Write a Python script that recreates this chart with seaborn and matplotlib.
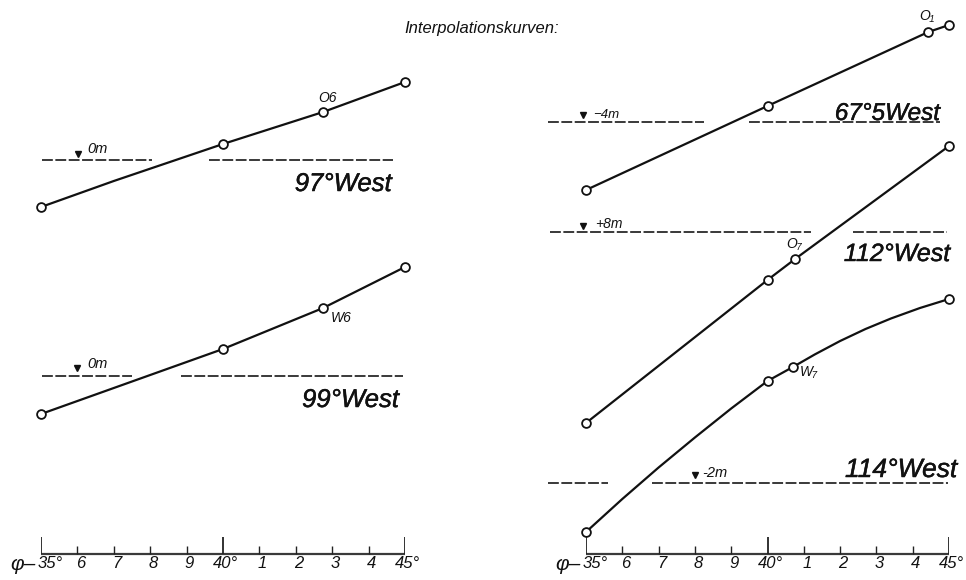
import matplotlib
matplotlib.use("Agg")
import matplotlib.pyplot as plt
import matplotlib.patheffects as pe
import pandas as pd
import seaborn as sns

# ---- latitude scale ---------------------------------------------------------
lat_ticks = [35, 36, 37, 38, 39, 40, 41, 42, 43, 44, 45]
lat_tick_labels = ["35°", "6", "7", "8", "9", "40°", "1", "2", "3", "4", "45°"]
major_ticks = [35, 40, 45]

# ---- interpolation curves: stations (latitude, height) ---------------------
w97_lat = [35, 40, 42.75, 45]
w97_h = [373, 436, 468, 498]
w97_bend_lat = [37.0]
w97_bend_h = [399]

w99_lat = [35, 40, 42.75, 45]
w99_h = [166, 231, 272, 313]

w67_lat = [35, 40, 44.43, 45]
w67_h = [390, 474, 548, 555]

w112_lat = [35, 40, 40.76, 45]
w112_h = [157, 300, 321, 434]

w114_lat = [35, 40, 40.7, 45]
w114_h = [48, 199, 213, 281]
w114_bend_lat = [36, 37, 38, 39, 41.3, 42.0, 42.7, 43.4, 44.2]
w114_bend_h = [81, 112.5, 142.5, 171.5, 225.5, 239, 251, 261.5, 272]

# ---- reference levels -------------------------------------------------------
level_names = ["97°West", "99°West", "67°5West", "112°West", "114°West"]
level_h = [420, 204, 458.5, 348, 97]
level_segments = [
    [(35.02, 38.04), (39.62, 44.67)],
    [(35.02, 37.49), (38.84, 44.95)],
    [(33.95, 38.24), (39.49, 44.75)],
    [(34.01, 41.20), (42.36, 44.94)],
    [(33.95, 35.61), (36.82, 44.97)],
]
level_text = ["0m", "0m", "−4m", "+8m", "-2m"]
level_mark_lat = [36.02, 36.0, 34.92, 34.92, 38.0]
level_mark_h = [426, 212.5, 465.5, 354.5, 105.5]
level_text_lat = [36.26, 36.26, 35.19, 35.25, 38.2]
level_text_h = [431, 216, 465, 356, 107]
level_text_size = [10.5, 10.5, 9.5, 10, 10.5]

# meridian titles: right edge latitude, baseline height, size
title_lat = [44.64, 44.84, 44.75, 45.03, 45.22]
title_h = [389, 173, 460, 319, 103]
title_size = [18.5, 18.5, 17.5, 18, 19]

# station labels
stn_text = ["O6", "W6", "O₁", "O₇", "W₇"]
stn_lat = [42.86, 43.24, 44.39, 40.73, 41.14]
stn_h = [482, 262, 564, 336, 208]

sns.set_theme(style="white")
plt.rcParams["font.family"] = ["Liberation Sans", "DejaVu Sans"]

INK = "#111111"
BOLDEN = [pe.withStroke(linewidth=0.35, foreground=INK)]

fig = plt.figure(figsize=(9.66, 5.8), dpi=100)
fig.patch.set_facecolor("white")
ax_l = fig.add_axes([41 / 966, 0, 364 / 966, 1])
ax_r = fig.add_axes([586 / 966, 0, 363 / 966, 1])
for ax in (ax_l, ax_r):
    ax.set_xlim(35, 45)
    ax.set_ylim(0, 580)
    ax.set_axis_off()


def draw_curve(ax, lat, h, bend_lat=(), bend_h=()):
    path = pd.DataFrame({"lat": list(lat) + list(bend_lat),
                         "h": list(h) + list(bend_h)}).sort_values("lat")
    sns.lineplot(data=path, x="lat", y="h", ax=ax, color=INK, lw=1.6,
                 sort=True, estimator=None, legend=False, zorder=2)
    pts = pd.DataFrame({"lat": lat, "h": h})
    sns.scatterplot(data=pts, x="lat", y="h", ax=ax, s=40, marker="o",
                    facecolor="white", edgecolor=INK, linewidth=1.3,
                    legend=False, zorder=3, clip_on=False)


draw_curve(ax_l, w97_lat, w97_h, w97_bend_lat, w97_bend_h)
draw_curve(ax_l, w99_lat, w99_h)
draw_curve(ax_r, w67_lat, w67_h)
draw_curve(ax_r, w112_lat, w112_h)
draw_curve(ax_r, w114_lat, w114_h, w114_bend_lat, w114_bend_h)

level_axes = [ax_l, ax_l, ax_r, ax_r, ax_r]
for i, ax in enumerate(level_axes):
    for x0, x1 in level_segments[i]:
        ax.hlines(level_h[i], x0, x1, colors="#2a2a2a", lw=1.3,
                  linestyles=(0, (6, 1.4)), clip_on=False, zorder=1)
    ax.plot([level_mark_lat[i]], [level_mark_h[i]], marker="v", ms=5,
            color=INK, clip_on=False, zorder=2)
    ax.text(level_text_lat[i], level_text_h[i], level_text[i],
            fontsize=level_text_size[i], style="italic", color=INK,
            ha="left", va="center")
    ax.text(title_lat[i], title_h[i], level_names[i], fontsize=title_size[i],
            style="italic", color=INK, ha="right", va="baseline",
            path_effects=BOLDEN)

stn_axes = [ax_l, ax_l, ax_r, ax_r, ax_r]
for ax, t, x, y in zip(stn_axes, stn_text, stn_lat, stn_h):
    ax.text(x, y, t, fontsize=10, style="italic", color=INK,
            ha="center", va="center")

# latitude scales
for ax in (ax_l, ax_r):
    ax.hlines(26.5, 35, 45, colors="#3a3a3a", lw=1.6, zorder=2)
    for t, lab in zip(lat_ticks, lat_tick_labels):
        top = 43 if t in major_ticks else 34
        ax.vlines(t, 26.5, top, colors="#222222", lw=1.3 if t in major_ticks else 1.0)
        if t == 35:
            ax.text(t - 0.1, 16, lab, fontsize=12, style="italic", color=INK,
                    ha="left", va="center")
        else:
            ax.text(t + 0.08, 16, lab, fontsize=12, style="italic", color=INK,
                    ha="center", va="center")
    ax.text(34.85, 10, "φ–", fontsize=15, style="italic", color=INK,
            ha="right", va="baseline")

fig.text(482 / 966, 1 - 29 / 580, "Interpolationskurven:", fontsize=12,
         style="italic", color=INK, ha="center", va="center")

fig.savefig("out.png", dpi=100, facecolor="white")
